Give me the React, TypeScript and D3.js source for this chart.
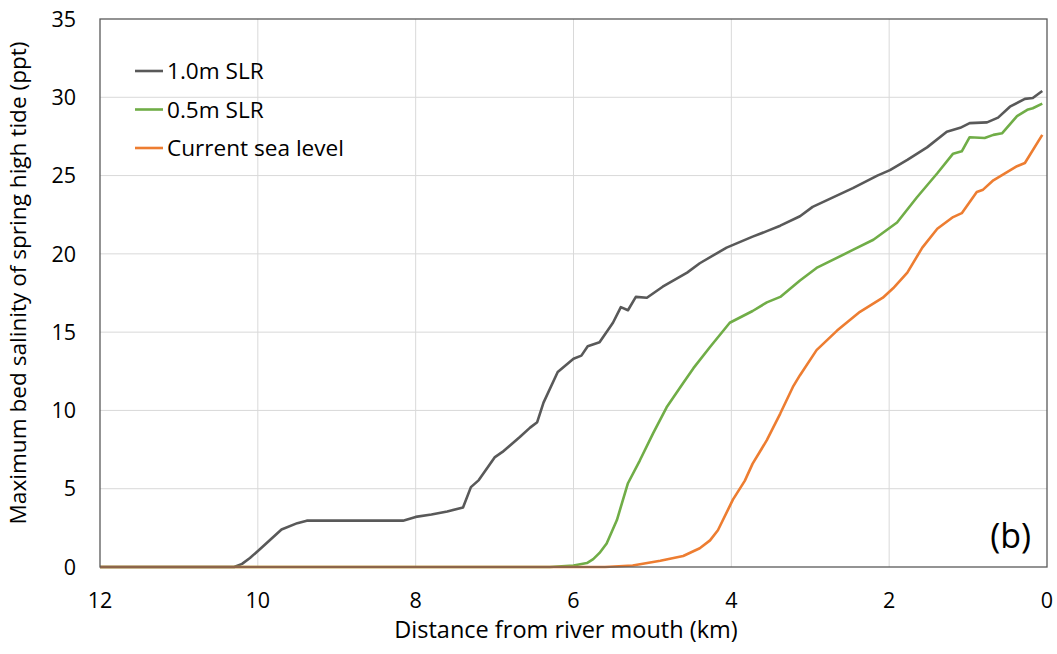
import React from 'react';
import * as d3 from 'd3';

// distance from river mouth (km) and max bed salinity (ppt)
const slr10Dist = [12, 10.3, 10.2, 10.1, 9.95, 9.7, 9.5, 9.38, 9.0, 8.6, 8.16, 8.0, 7.8, 7.6, 7.4, 7.3, 7.2, 7.0, 6.9, 6.68, 6.55, 6.46, 6.38, 6.2, 6.0, 5.9, 5.82, 5.67, 5.5, 5.4, 5.31, 5.21, 5.07, 4.87, 4.56, 4.4, 4.06, 3.73, 3.55, 3.38, 3.13, 2.97, 2.46, 2.15, 1.99, 1.77, 1.52, 1.27, 1.1, 0.98, 0.76, 0.62, 0.47, 0.28, 0.18, 0.06];
const slr10Sal = [0, 0, 0.2, 0.57, 1.25, 2.4, 2.8, 2.96, 2.96, 2.96, 2.96, 3.2, 3.35, 3.55, 3.8, 5.1, 5.55, 7.0, 7.35, 8.3, 8.9, 9.25, 10.5, 12.45, 13.3, 13.5, 14.1, 14.35, 15.6, 16.6, 16.4, 17.25, 17.2, 17.9, 18.8, 19.4, 20.4, 21.1, 21.45, 21.8, 22.4, 23.0, 24.2, 25.0, 25.35, 26.0, 26.8, 27.8, 28.05, 28.35, 28.4, 28.7, 29.4, 29.9, 29.95, 30.4];

const slr05Dist = [12, 6.3, 6.0, 5.83, 5.75, 5.67, 5.58, 5.45, 5.31, 5.16, 4.99, 4.82, 4.61, 4.48, 4.27, 4.02, 3.73, 3.55, 3.38, 3.13, 2.92, 2.46, 2.2, 1.9, 1.65, 1.39, 1.19, 1.08, 0.98, 0.79, 0.68, 0.57, 0.38, 0.25, 0.18, 0.06];
const slr05Sal = [0, 0, 0.1, 0.25, 0.5, 0.9, 1.5, 3.0, 5.35, 6.8, 8.55, 10.2, 11.75, 12.7, 14.05, 15.6, 16.35, 16.9, 17.25, 18.3, 19.1, 20.25, 20.9, 22.0, 23.6, 25.15, 26.4, 26.55, 27.45, 27.4, 27.6, 27.7, 28.8, 29.2, 29.3, 29.6];

const currentDist = [12, 5.6, 5.25, 4.9, 4.61, 4.4, 4.27, 4.17, 3.98, 3.83, 3.73, 3.55, 3.47, 3.38, 3.22, 3.13, 2.92, 2.66, 2.37, 2.08, 1.95, 1.77, 1.58, 1.39, 1.19, 1.08, 0.89, 0.81, 0.68, 0.38, 0.28, 0.06];
const currentSal = [0, 0, 0.1, 0.4, 0.7, 1.2, 1.7, 2.35, 4.3, 5.5, 6.6, 8.1, 8.9, 9.8, 11.5, 12.25, 13.85, 15.1, 16.3, 17.2, 17.8, 18.8, 20.4, 21.6, 22.35, 22.6, 23.95, 24.1, 24.7, 25.6, 25.8, 27.6];

const xTicks = [12, 10, 8, 6, 4, 2, 0];
const yTicks = [0, 5, 10, 15, 20, 25, 30, 35];

const series = [
  { name: '1.0m SLR', color: '#595959', dist: slr10Dist, sal: slr10Sal },
  { name: '0.5m SLR', color: '#70AD47', dist: slr05Dist, sal: slr05Sal },
  { name: 'Current sea level', color: '#ED7D31', dist: currentDist, sal: currentSal },
];

const W = 1057;
const H = 654;
const left = 100, right = 1047, top = 19, bottom = 567;
const font = '"Open Sans", Lato, sans-serif';

export default function App() {
  const x = d3.scaleLinear().domain([12, 0]).range([left, right]);
  const y = d3.scaleLinear().domain([0, 35]).range([bottom, top]);

  const line = d3.line<[number, number]>()
    .x(d => x(d[0]))
    .y(d => y(d[1]));

  const legendY = [71, 109.5, 148];

  return (
    <svg width={W} height={H} style={{ position: 'absolute', left: 0, top: 0, background: '#fff' }} fontFamily={font}>
      {/* grid */}
      {yTicks.filter(t => t > 0 && t < 35).map(t => (
        <line key={'gy' + t} x1={left} x2={right} y1={y(t)} y2={y(t)} stroke="#d9d9d9" strokeWidth={1} />
      ))}
      {xTicks.filter(t => t > 0 && t < 12).map(t => (
        <line key={'gx' + t} x1={x(t)} x2={x(t)} y1={top} y2={bottom} stroke="#d9d9d9" strokeWidth={1} />
      ))}

      {/* series */}
      {series.map(s => (
        <path key={s.name} d={line(s.dist.map((d, i) => [d, s.sal[i]] as [number, number])) || ''}
          fill="none" stroke={s.color} strokeWidth={2.6} strokeLinejoin="round" />
      ))}

      {/* frame */}
      <rect x={left} y={top} width={right - left} height={bottom - top} fill="none" stroke="#595959" strokeWidth={1.3} />

      {/* ticks */}
      {yTicks.map(t => (
        <text key={'ty' + t} x={76} y={y(t)} dy="0.36em" textAnchor="end" fontSize={21.5} fill="#000">{t}</text>
      ))}
      {xTicks.map(t => (
        <text key={'tx' + t} x={x(t)} y={608} textAnchor="middle" fontSize={21.5} fill="#000">{t}</text>
      ))}

      {/* axis titles */}
      <text x={566} y={638} textAnchor="middle" fontSize={23.5} fill="#000">Distance from river mouth (km)</text>
      <text transform={`translate(26,283) rotate(-90)`} textAnchor="middle" fontSize={22.6} fill="#000">
        Maximum bed salinity of spring high tide (ppt)
      </text>

      {/* legend */}
      {series.map((s, i) => (
        <g key={'lg' + s.name}>
          <line x1={135} x2={163} y1={legendY[i]} y2={legendY[i]} stroke={s.color} strokeWidth={2.6} />
          <text x={167} y={legendY[i]} dy="0.36em" fontSize={22.6} fill="#000">{s.name}</text>
        </g>
      ))}

      <text x={1031} y={548} textAnchor="end" fontSize={34} fill="#000">(b)</text>
    </svg>
  );
}
